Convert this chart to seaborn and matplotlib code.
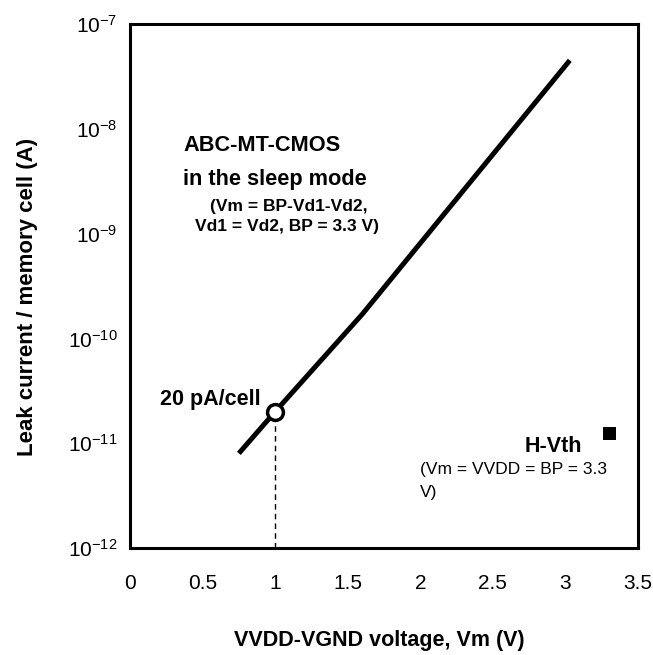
import seaborn as sns
import matplotlib.pyplot as plt
import pandas as pd
import numpy as np

# data
vm_curve = [0.75, 1.0, 1.6, 3.03]
leak_curve = [8.0e-12, 2.0e-11, 1.7e-10, 4.5e-8]
vm_marker = [1.0]
leak_marker = [2.0e-11]
vm_hvth = [3.3]
leak_hvth = [1.26e-11]
x_ticks = [0, 0.5, 1, 1.5, 2, 2.5, 3, 3.5]
x_tick_labels = ["0", "0.5", "1", "1.5", "2", "2.5", "3", "3.5"]
y_ticks = [1e-12, 1e-11, 1e-10, 1e-9, 1e-8, 1e-7]

sns.set_style("white")
plt.rcParams['font.family'] = ['Liberation Sans', 'DejaVu Sans']
plt.rcParams['text.color'] = 'black'
plt.rcParams['axes.labelcolor'] = 'black'

fig = plt.figure(figsize=(6.53, 6.55), dpi=100)
ax = fig.add_axes([130 / 653, 1 - 548 / 655, 508 / 653, 524 / 655])

curve = pd.DataFrame({"vm": vm_curve, "leak": leak_curve})
sns.lineplot(data=curve, x="vm", y="leak", ax=ax, color="black",
             linewidth=3.6, solid_capstyle="butt")

# dashed drop line from the 20 pA point
ax.vlines(vm_marker[0], 1e-12, leak_marker[0], colors="black",
          linestyles=(0, (4, 3)), linewidth=1.0, zorder=2)

ax.scatter(vm_marker, leak_marker, s=130, facecolor="white",
           edgecolor="black", linewidth=2.5, zorder=4)

sns.scatterplot(x=vm_hvth, y=leak_hvth, ax=ax, marker="s", s=80,
                color="black", edgecolor="black", zorder=4)

ax.set_yscale("log")
ax.set_xlim(0, 3.5)
ax.set_ylim(1e-12, 1e-7)
ax.set_xticks(x_ticks)
ax.set_xticklabels(x_tick_labels)
ax.set_yticks(y_ticks)
ax.yaxis.set_minor_locator(plt.NullLocator())

ax.tick_params(axis="both", direction="in", length=8, width=2,
               labelsize=15, colors="black")
ax.tick_params(axis="x", pad=19)
ax.tick_params(axis="y", pad=9)
for s in ax.spines.values():
    s.set_linewidth(2.2)
    s.set_color("black")

ax.set_xlabel("VVDD-VGND voltage, Vm (V)", fontsize=15.5, fontweight="bold")
ax.xaxis.set_label_coords(0.49, -0.157)
ax.set_ylabel("Leak current / memory cell (A)", fontsize=16,
              fontweight="bold")
ax.yaxis.set_label_coords(-0.182, 0.48)

ax.text(0.365, 6.9e-9, "ABC-MT-CMOS", fontsize=15.7, fontweight="bold",
        va="center", ha="left")
ax.text(0.365, 3.3e-9, "in the sleep mode", fontsize=15.7, fontweight="bold",
        va="center", ha="left")
ax.text(0.55, 1.8e-9, "(Vm = BP-Vd1-Vd2,", fontsize=12.5,
        fontweight="bold", va="center", ha="left")
ax.text(0.45, 1.17e-9, "Vd1 = Vd2, BP = 3.3 V)", fontsize=12.5,
        fontweight="bold", va="center", ha="left")
ax.text(0.207, 2.6e-11, "20 pA/cell", fontsize=15.5, fontweight="bold",
        va="center", ha="left")
ax.text(2.72, 9.3e-12, "H-Vth", fontsize=15.5, fontweight="bold",
        va="center", ha="left")
ax.text(2.0, 5.6e-12, "(Vm = VVDD = BP = 3.3", fontsize=12.5,
        va="center", ha="left")
ax.text(2.0, 3.4e-12, "V)", fontsize=12.5, va="center", ha="left")

fig.savefig("out.png", dpi=100, facecolor="white")
